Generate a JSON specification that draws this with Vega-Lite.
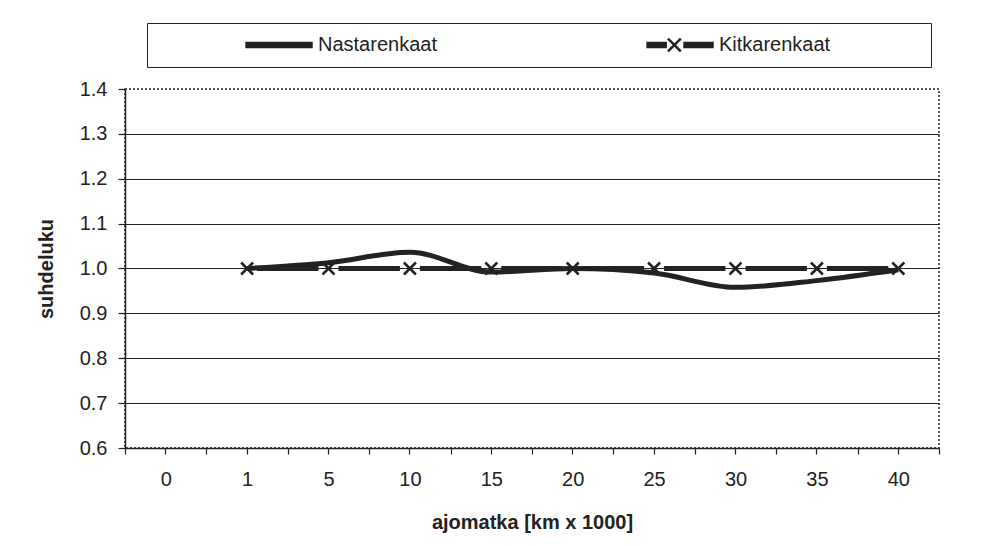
{
  "$schema": "https://vega.github.io/schema/vega-lite/v6.json",
  "width": 814,
  "height": 359,
  "autosize": {"type": "none"},
  "padding": {"left": 125, "top": 89, "right": 48, "bottom": 98},
  "background": "white",
  "config": {
    "font": "Liberation Sans",
    "view": {"stroke": "#222", "strokeDash": [2, 2], "strokeWidth": 1.5},
    "axis": {
      "labelFont": "Liberation Sans", "labelFontSize": 20, "labelColor": "#222",
      "titleFont": "Liberation Sans", "titleFontSize": 20, "titleFontWeight": "bold", "titleColor": "#222",
      "domainColor": "#222", "domainWidth": 1.5, "tickColor": "#222", "tickWidth": 1.2, "gridColor": "#222"
    }
  },
  "data": {
    "values": [
      {"sarja": "Nastarenkaat", "km": "1", "suhdeluku": 1.0},
      {"sarja": "Nastarenkaat", "km": "5", "suhdeluku": 1.013},
      {"sarja": "Nastarenkaat", "km": "10", "suhdeluku": 1.036},
      {"sarja": "Nastarenkaat", "km": "15", "suhdeluku": 0.992},
      {"sarja": "Nastarenkaat", "km": "20", "suhdeluku": 1.0},
      {"sarja": "Nastarenkaat", "km": "25", "suhdeluku": 0.99},
      {"sarja": "Nastarenkaat", "km": "30", "suhdeluku": 0.958},
      {"sarja": "Nastarenkaat", "km": "35", "suhdeluku": 0.973},
      {"sarja": "Nastarenkaat", "km": "40", "suhdeluku": 0.997},
      {"sarja": "Kitkarenkaat", "km": "1", "suhdeluku": 1.0},
      {"sarja": "Kitkarenkaat", "km": "5", "suhdeluku": 1.0},
      {"sarja": "Kitkarenkaat", "km": "10", "suhdeluku": 1.0},
      {"sarja": "Kitkarenkaat", "km": "15", "suhdeluku": 1.0},
      {"sarja": "Kitkarenkaat", "km": "20", "suhdeluku": 1.0},
      {"sarja": "Kitkarenkaat", "km": "25", "suhdeluku": 1.0},
      {"sarja": "Kitkarenkaat", "km": "30", "suhdeluku": 1.0},
      {"sarja": "Kitkarenkaat", "km": "35", "suhdeluku": 1.0},
      {"sarja": "Kitkarenkaat", "km": "40", "suhdeluku": 1.0}
    ]
  },
  "encoding": {
    "y": {
      "field": "suhdeluku", "type": "quantitative",
      "scale": {"domain": [0.6, 1.4], "nice": false, "zero": false},
      "axis": {
        "title": "suhdeluku", "values": [0.6, 0.7, 0.8, 0.9, 1.0, 1.1, 1.2, 1.3, 1.4],
        "format": ".1f", "grid": true, "gridWidth": 1.2,
        "gridOpacity": {"condition": {"test": "datum.value >= 1.39", "value": 0}, "value": 1},
        "tickSize": 7, "labelPadding": 11, "titlePadding": 23
      }
    },
    "color": {
      "field": "sarja", "type": "nominal",
      "scale": {"domain": ["Nastarenkaat", "Kitkarenkaat"], "range": ["#222", "#222"]},
      "legend": {
        "orient": "none", "legendX": 22, "legendY": -66, "direction": "horizontal",
        "title": " ", "titleOrient": "right", "titlePadding": 89,
        "strokeColor": "#222", "padding": 12, "clipHeight": 20,
        "labelFont": "Liberation Sans", "labelFontSize": 20, "labelColor": "#222",
        "symbolSize": 22801, "labelOffset": 5, "columnPadding": 123, "symbolStrokeWidth": 2.5,
        "encode": {
          "symbols": {
            "update": {
              "shape": {"signal": "datum.value === 'Nastarenkaat' ? 'M-1,0M0.14,-0.025H1V0.025H0.14Z' : 'M-1,0M0.14,-0.025H0.38V0.025H0.14ZM0.63,-0.025H1V0.025H0.63ZM0.41,-0.085L0.58,0.085M0.41,0.085L0.58,-0.085'"},
              "fill": {"value": "#222"},
              "stroke": {"value": "#222"},
              "strokeWidth": {"value": 2.5},
              "opacity": {"value": 1},
              "fillOpacity": {"value": 1},
              "strokeOpacity": {"value": 1}
            }
          }
        }
      }
    }
  },
  "layer": [
    {
      "transform": [{"filter": "datum.sarja === 'Nastarenkaat'"}],
      "mark": {"type": "line", "interpolate": "monotone", "strokeWidth": 5, "strokeCap": "butt"},
      "encoding": {
        "x": {
          "field": "km", "type": "ordinal",
          "sort": ["0", "1", "5", "10", "15", "20", "25", "30", "35", "40"],
          "bandPosition": 0.5,
          "scale": {"type": "band", "domain": ["0", "1", "5", "10", "15", "20", "25", "30", "35", "40"], "paddingInner": 0, "paddingOuter": 0},
          "axis": {
            "orient": "bottom", "title": "ajomatka [km x 1000]", "labelAngle": 0,
            "tickBand": "extent", "tickSize": 6, "labelPadding": 15, "titlePadding": 23, "grid": false
          }
        }
      }
    },
    {
      "transform": [{"filter": "datum.sarja === 'Kitkarenkaat'"}],
      "mark": {"type": "line", "strokeWidth": 5, "strokeCap": "butt", "strokeDash": [0, 10, 61.4, 10]},
      "encoding": {
        "x": {
          "field": "km", "type": "ordinal",
          "sort": ["0", "1", "5", "10", "15", "20", "25", "30", "35", "40"],
          "bandPosition": 0.5,
          "scale": {"type": "band", "domain": ["0", "1", "5", "10", "15", "20", "25", "30", "35", "40"], "paddingInner": 0, "paddingOuter": 0},
          "axis": null
        }
      }
    },
    {
      "transform": [{"filter": "datum.sarja === 'Kitkarenkaat'"}],
      "mark": {"type": "point", "shape": "M-1,-1L1,1M-1,1L1,-1", "filled": false, "strokeWidth": 2.5, "size": 144, "opacity": 1},
      "encoding": {
        "x": {
          "field": "km", "type": "ordinal",
          "sort": ["0", "1", "5", "10", "15", "20", "25", "30", "35", "40"],
          "bandPosition": 0.5,
          "scale": {"type": "band", "domain": ["0", "1", "5", "10", "15", "20", "25", "30", "35", "40"], "paddingInner": 0, "paddingOuter": 0},
          "axis": {
            "orient": "bottom", "title": null, "labels": false, "domain": false,
            "tickBand": "center", "tickSize": 6, "grid": false
          }
        }
      }
    }
  ],
  "resolve": {"axis": {"x": "independent"}}
}
